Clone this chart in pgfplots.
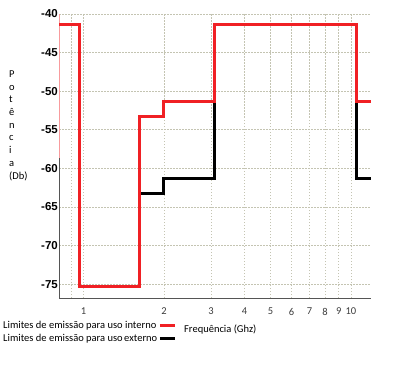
\documentclass[border=0pt]{standalone}
\usepackage{fontspec}
\setmainfont{Carlito}
\newfontfamily\arialfont{Liberation Sans}
\usepackage{pgfplots}
\pgfplotsset{compat=1.18}
\definecolor{uwbred}{RGB}{240,32,36}
\definecolor{gridc}{RGB}{196,196,178}
\definecolor{axisc}{RGB}{85,85,85}
\definecolor{tickc}{RGB}{60,60,60}
\begin{document}
\begin{tikzpicture}
\begin{axis}[
  scale only axis,
  width=312pt, height=284pt,
  xmode=log,
  xmin=0.81, xmax=11.88,
  ymin=-76.8, ymax=-40,
  separate axis lines,
  axis x line*=bottom,
  axis y line*=left,
  x axis line style={axisc, line width=0.9pt},
  y axis line style={draw=none},
  xtick={1,2,3,4,5,6,7,8,9,10},
  xticklabels={1,2,3,4,5,6,7,8,9,10},
  minor xtick={0.9},
  ytick={-75,-70,-65,-60,-55,-50,-45,-40},
  yticklabels={-75,-70,-65,-60,-55,-50,-45,-40},
  major tick length=0pt, minor tick length=0pt,
  xmajorgrids, xminorgrids, ymajorgrids,
  grid style={gridc, line width=0.8pt, dash pattern=on 1.5pt off 1.5pt},
  minor grid style={gridc, line width=0.8pt, dash pattern=on 1.5pt off 1.5pt},
  xticklabel style={font=\fontsize{10.5}{12}\selectfont, text=tickc, yshift=-6.5pt},
  yticklabel style={font=\arialfont\bfseries\fontsize{11.5}{13}\selectfont, inner sep=1pt},
  clip=false,
  legend plot pos=right,
  legend image code/.code={\draw[#1] (0pt,0pt) -- (15pt,0pt);},
  legend style={at={(axis description cs:-0.1827,-0.0775)}, anchor=north west,
    draw=none, fill=none, inner sep=0pt, row sep=2.5pt,
    font=\fontsize{10.5}{12}\selectfont,
    nodes={inner sep=1pt},
    /tikz/every even column/.append style={column sep=2pt}},
  legend cell align=left,
  reverse legend,
]
\addplot[forget plot, uwbred!45, line width=1pt] coordinates {(0.81,-40) (0.81,-58.7)};
\addplot[forget plot, axisc, line width=1pt] coordinates {(0.81,-58.7) (0.81,-76.8)};
\addplot[black, line width=3pt] coordinates {
  (0.81,-41.3) (0.97,-41.3) (0.97,-75.3) (1.62,-75.3) (1.62,-63.3) (1.99,-63.3)
  (1.99,-61.3) (3.1,-61.3) (3.1,-41.3) (10.5,-41.3) (10.5,-61.3) (11.88,-61.3)};
\addlegendentry{Limites de emissão para uso\hspace{1.5pt}externo}
\addplot[uwbred, line width=3pt] coordinates {
  (0.81,-41.3) (0.97,-41.3) (0.97,-75.3) (1.62,-75.3) (1.62,-53.3) (1.99,-53.3)
  (1.99,-51.3) (3.1,-51.3) (3.1,-41.3) (10.5,-41.3) (10.5,-51.3) (11.88,-51.3)};
\addlegendentry{Limites de emissão para uso interno}
\end{axis}
\node[anchor=base, inner sep=0pt, font=\fontsize{10.5}{12}\selectfont] at (161.3pt,-34.3pt) {Frequência (Ghz)};
\node[anchor=north west, inner sep=0pt, align=left, font=\fontsize{10.5}{12.7}\selectfont] at (-50pt,227.5pt)
  {P\\o\\t\\ê\\n\\c\\i\\a\\(Db)};
\pgfresetboundingbox
\path (-59pt,-69pt) rectangle (334pt,298pt);
\end{tikzpicture}
\end{document}
